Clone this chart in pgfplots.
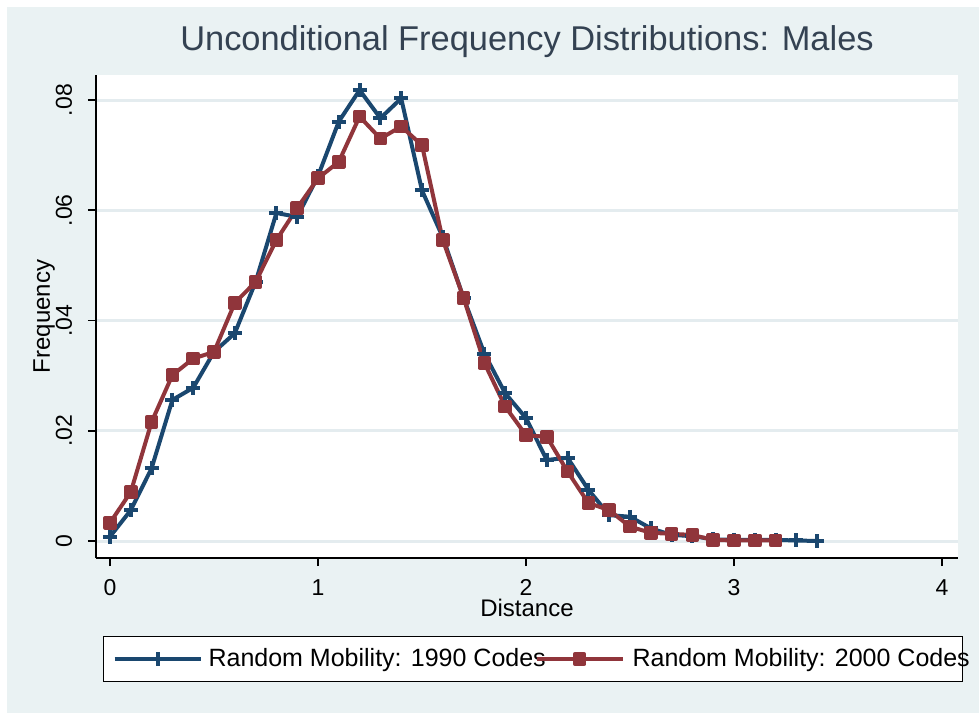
\documentclass[border=0pt]{standalone}
\usepackage{fontspec}
\setmainfont{Liberation Sans}
\usepackage{pgfplots}
\pgfplotsset{compat=1.18}
\definecolor{bgc}{RGB}{234,242,243}
\definecolor{gridc}{RGB}{228,236,239}
\definecolor{snavy}{RGB}{26,71,111}
\definecolor{smaroon}{RGB}{144,53,59}
\definecolor{titlec}{RGB}{52,66,82}
\begin{document}
\begin{tikzpicture}
\fill[white] (0,0) rectangle (489.5bp,356.5bp);
\fill[bgc] (3.5bp,0) rectangle (489.5bp,353bp);
\begin{axis}[
  at={(48bp,77.5bp)}, anchor=south west,
  scale only axis, width=431bp, height=241.5bp,
  xmin=-0.0673, xmax=4.077, ymin=-0.00308, ymax=0.08454,
  scaled y ticks=false, scaled x ticks=false,
  axis background/.style={fill=white},
  axis x line*=bottom, axis y line*=left,
  axis line style={-, line width=0.8bp, black},
  tick align=outside, major tick length=4bp,
  tick style={black, line width=0.8bp},
  xtick={0,1,2,3,4}, xticklabels={0,1,2,3,4},
  ytick={0,0.02,0.04,0.06,0.08}, yticklabels={0,.02,.04,.06,.08},
  /pgf/number format/assume math mode=true,
  ticklabel style={font=\fontsize{11.5bp}{13bp}\selectfont},
  xticklabel style={anchor=base, inner sep=0pt},
  xticklabel shift=14.5bp,
  yticklabel style={rotate=90, anchor=base, inner sep=0pt},
  yticklabel shift=8bp,
  ymajorgrids, grid style={gridc, line width=1.5bp},
  title={Unconditional Frequency Distributions: Males},
  title style={at={(axis description cs:0.5,1.0269)}, anchor=base, inner sep=0pt,
    font=\fontsize{17.2bp}{20bp}\selectfont, text=titlec},
  xlabel={Distance},
  xlabel style={at={(axis description cs:0.5,-0.121)}, anchor=base, inner sep=0pt,
    font=\fontsize{12bp}{14bp}\selectfont},
  ylabel={Frequency},
  ylabel style={at={(axis description cs:-0.0534,0.5)}, anchor=base, inner sep=0pt,
    font=\fontsize{12bp}{14bp}\selectfont},
  legend columns=2,
  legend cell align=left,
  legend style={at={(axis description cs:0.00812,-0.1615)}, anchor=north west,
    draw=black, line width=0.6bp, fill=white, inner xsep=4.5bp, inner ysep=6bp,
    nodes={inner sep=0pt}, column sep=0pt,
    font=\fontsize{12.5bp}{14bp}\selectfont},
  legend image code/.code={\draw[mark repeat=2,mark phase=2,#1] plot coordinates {(0bp,0bp) (21.5bp,0bp) (43bp,0bp)};},
]
\addplot[snavy, line width=2bp, line join=round, mark=+, mark size=3.5bp, mark options={solid, line width=2bp}] coordinates {
(0.0,0.0008) (0.1,0.0056) (0.2,0.0132) (0.3,0.0256) (0.4,0.0278) (0.5,0.0343)
(0.6,0.0377) (0.7,0.0470) (0.8,0.0595) (0.9,0.0588) (1.0,0.0662) (1.1,0.0761)
(1.2,0.0818) (1.3,0.0767) (1.4,0.0803) (1.5,0.0636) (1.6,0.0551) (1.7,0.0441)
(1.8,0.0340) (1.9,0.0268) (2.0,0.0223) (2.1,0.0147) (2.2,0.0151) (2.3,0.0093)
(2.4,0.0047) (2.5,0.0044) (2.6,0.0023) (2.7,0.0011) (2.8,0.0009) (2.9,0.0003)
(3.0,0.0002) (3.1,0.0002) (3.2,0.0002) (3.3,0.0001) (3.4,0.0000)
};
\addlegendentry{\hspace{3bp}\makebox[163bp][l]{Random Mobility: 1990 Codes}}
\addplot[smaroon, line width=2bp, line join=round, mark=square*, mark size=2.4bp, mark options={solid}] coordinates {
(0.0,0.0033) (0.1,0.0089) (0.2,0.0216) (0.3,0.0301) (0.4,0.0331) (0.5,0.0343)
(0.6,0.0432) (0.7,0.0470) (0.8,0.0546) (0.9,0.0604) (1.0,0.0658) (1.1,0.0688)
(1.2,0.0770) (1.3,0.0730) (1.4,0.0752) (1.5,0.0718) (1.6,0.0546) (1.7,0.0441)
(1.8,0.0323) (1.9,0.0244) (2.0,0.0192) (2.1,0.0189) (2.2,0.0126) (2.3,0.0069)
(2.4,0.0056) (2.5,0.0026) (2.6,0.0015) (2.7,0.0013) (2.8,0.0011) (2.9,0.0002)
(3.0,0.0001) (3.1,0.0001) (3.2,0.0001)
};
\addlegendentry{\hspace{4bp}\makebox[160.5bp][l]{Random Mobility: 2000 Codes}}
\end{axis}
\end{tikzpicture}
\end{document}
